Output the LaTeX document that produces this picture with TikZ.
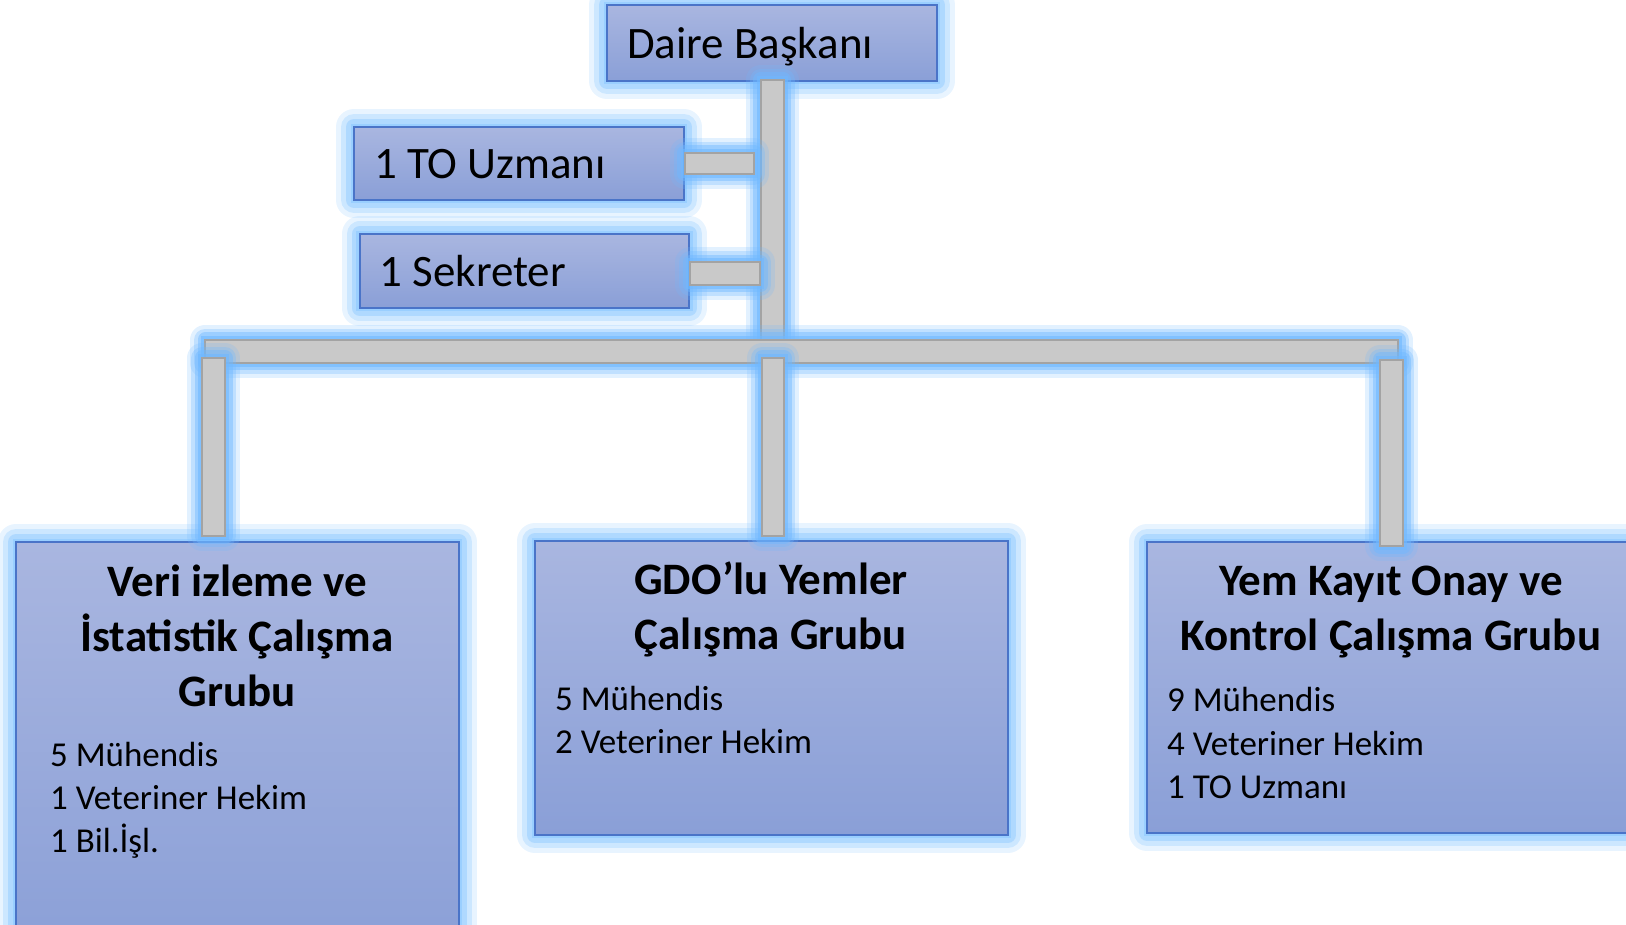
\documentclass[tikz,border=0pt]{standalone}
\usepackage{fontspec}
\setmainfont{Carlito}
\usepackage{tikz}
\usetikzlibrary{calc}
\usetikzlibrary{positioning}
\definecolor{boxtop}{HTML}{A9B6E0}
\definecolor{boxbot}{HTML}{8A9FD7}
\definecolor{boxline}{HTML}{4A74C8}
\definecolor{glowc}{HTML}{8CC8FF}
\definecolor{barglow}{HTML}{70B8FF}
\definecolor{barfill}{HTML}{C9C9C9}
\definecolor{barline}{HTML}{A3A3A3}
\newcommand{\unitfont}{\fontsize{25.6}{31}\selectfont}
\newcommand{\titlefont}{\fontsize{25.6}{31.3}\selectfont\bfseries}
\newcommand{\listfont}{\fontsize{19.9}{24.5}\selectfont}
\tikzstyle{glow} = [preaction={draw=glowc, line width=0.72cm, line join=round, opacity=0.2},
                    preaction={draw=glowc, line width=0.52cm, line join=round, opacity=0.3},
                    preaction={draw=glowc, line width=0.32cm, line join=round, opacity=0.45},
                    preaction={draw=glowc, line width=0.14cm, opacity=0.6}]
\tikzstyle{unitbox} = [glow, draw=boxline, line width=0.04cm, top color=boxtop, bottom color=boxbot, inner sep=0pt]
\tikzstyle{smallbox} = [unitbox, minimum height=1.48cm, text width=5.8cm, text depth=0pt, inner xsep=0.4cm, align=flush left, font=\unitfont]
\tikzstyle{grouptitle} = [align=center, font=\titlefont]
\tikzstyle{grouplist} = [align=left, anchor=west, font=\listfont]
\tikzstyle{bar} = [preaction={draw=barglow, line width=0.6cm, line join=round, opacity=0.2},
                   preaction={draw=barglow, line width=0.44cm, line join=round, opacity=0.3},
                   preaction={draw=barglow, line width=0.3cm, line join=round, opacity=0.45},
                   preaction={draw=barglow, line width=0.16cm, opacity=0.6},
                   draw=barline, line width=0.04cm, fill=barfill]

\begin{document}
\begin{tikzpicture}[x=0.02cm, y=-0.02cm]
  \useasboundingbox (0,0) rectangle (1626,925);
  % boxes
  \node[smallbox, minimum height=1.52cm] (boss) at (772,43) {Daire Başkanı};
  \node[smallbox, minimum height=1.46cm] (touz) at (519,163.5) {1 TO Uzmanı};
  \node[smallbox] (sekr) at (524.5,271) {1 Sekreter};
  \node[unitbox, minimum width=8.86cm, minimum height=8.4cm] (veri) at (237.5,752) {};
  \node[unitbox, minimum width=9.46cm, minimum height=5.88cm] (gdo) at (771.5,688) {};
  \node[unitbox, minimum width=9.86cm, minimum height=5.82cm] (yem) at (1393.5,687.5) {};

  % group texts
  \node[grouptitle] (veriT) at (237,636) {Veri izleme ve\\İstatistik Çalışma\\Grubu};
  \node[grouplist] (veriL) at (44,800) {5 Mühendis\\1 Veteriner Hekim\\1 Bil.İşl.};
  \node[grouptitle] (gdoT) at (771,609) {GDO’lu Yemler\\Çalışma Grubu};
  \node[grouplist] (gdoL) at (549,720) {5 Mühendis\\2 Veteriner Hekim};
  \node[grouptitle] (yemT) at (1391,612) {Yem Kayıt Onay ve\\Kontrol Çalışma Grubu};
  \node[grouplist] (yemL) at (1161,743) {9 Mühendis\\4 Veteriner Hekim\\1 TO Uzmanı};

  % connectors
  \coordinate (dropL) at (213.5,351.5);
  \coordinate (dropM) at (773,351.5);
  \coordinate (dropR) at (1391.5,351.5);
  \coordinate (hubTO) at (touz.east -| boss.south);
  \coordinate (hubSK) at (sekr.east -| boss.south);
  \coordinate (endL) at (dropL |- veri.north);
  \coordinate (endM) at (dropM |- gdo.north);
  \coordinate (endR) at (dropR |- yem.north);
  \draw[bar] ($(boss.south)+(-11.5,-2)$) rectangle ($(boss.south |- dropM)+(11.5,0)$);
  \draw[bar] ($(touz.east)+(0,-10.5)$) rectangle ($(hubTO)+(-18,10.5)$);
  \draw[bar] ($(sekr.east)+(0,-8.5)$) rectangle ($(hubSK)+(-12,14)$);
  \draw[bar] ($(dropL)+(-8.5,-11.5)$) rectangle ($(dropR)+(6.5,11.5)$);
  \draw[bar] ($(dropL)+(-11.5,6.5)$) rectangle ($(endL)+(11.5,-5)$);
  \draw[bar] ($(dropM)+(-11,6.5)$) rectangle ($(endM)+(11,-4)$);
  \draw[bar] ($(dropR)+(-11.5,8.5)$) rectangle ($(endR)+(11.5,5)$);
\end{tikzpicture}
\end{document}
